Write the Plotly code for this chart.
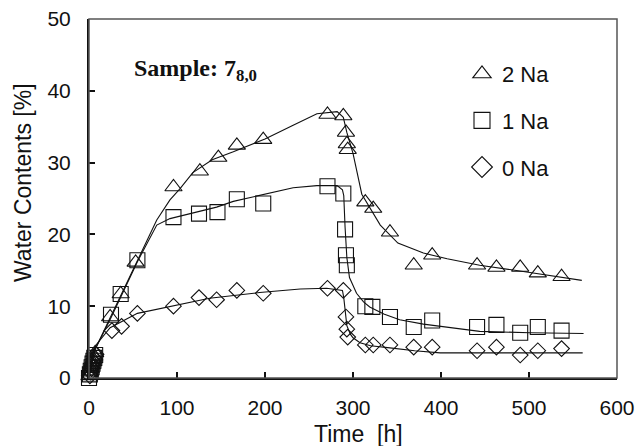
import plotly.graph_objects as go

t_2na = [0.5, 1, 2, 3, 4, 5, 6, 7, 24, 36, 53, 96, 126, 147, 168, 198, 271, 289, 292, 293, 294,
         314, 323, 342, 369, 390, 441, 463, 490, 510, 537]
v_2na = [0.3, 0.8, 1.3, 1.8, 2.2, 2.6, 3.0, 3.5, 8.5, 11.7, 16.1, 26.6, 28.8, 30.7, 32.4, 33.2, 36.7, 36.5, 34.2, 32.6, 31.8,
         24.5, 23.6, 20.3, 15.7, 17.1, 15.7, 15.4, 15.4, 14.6, 14.1]

t_1na = [0, 1, 2, 3, 4, 5, 6, 7, 25, 36, 55, 96, 125, 146, 168, 198, 271, 289, 291, 292, 293,
         314, 322, 342, 369, 390, 441, 463, 490, 510, 537]
v_1na = [0, 0.5, 1.0, 1.5, 2.0, 2.4, 2.8, 3.2, 8.8, 11.7, 16.4, 22.4, 22.9, 23.1, 24.9, 24.3, 26.7, 25.7, 20.7, 17.1, 15.7,
         10.0, 9.9, 8.5, 7.1, 8.0, 7.1, 7.4, 6.3, 7.1, 6.6]

t_0na = [0, 1, 2, 3, 4, 5, 6, 8, 26, 37, 55, 96, 125, 145, 168, 198, 271, 289, 292, 293, 294,
         314, 323, 342, 369, 390, 441, 463, 490, 510, 537]
v_0na = [-0.3, 0.3, 0.8, 1.3, 1.8, 2.2, 2.7, 3.3, 6.6, 7.2, 9.0, 10.0, 11.2, 10.9, 12.2, 11.8, 12.5, 12.2, 8.5, 6.8, 5.7,
         4.6, 4.6, 4.6, 4.3, 4.3, 3.8, 4.3, 3.2, 3.8, 4.1]

# fitted curves
fit_t_2na = [0, 3, 7, 25, 55, 77, 92, 103, 118, 140, 164, 200, 232, 259, 282, 289, 293, 300, 310, 324, 331, 351, 380, 407, 444, 501, 560]
fit_v_2na = [0, 2.0, 4.0, 8.6, 16.5, 22.0, 24.8, 26.3, 28.6, 30.4, 31.5, 33.3, 35.2, 36.8, 37.1, 36.3, 34.2, 31.3, 25.6, 22.8, 21.3, 18.8, 17.4, 16.6, 15.7, 14.7, 13.6]

fit_t_1na = [0, 3, 7, 25, 55, 77, 92, 120, 145, 164, 200, 232, 259, 282, 288, 289.5, 291, 293, 296, 300, 304, 312, 319, 335, 353, 380, 407, 444, 501, 562]
fit_v_1na = [0, 2.0, 4.0, 8.4, 16.2, 21.3, 22.2, 23.0, 23.8, 24.6, 25.6, 26.5, 26.8, 26.8, 26.2, 25.4, 21.0, 16.8, 14.0, 12.8, 11.8, 10.6, 9.9, 8.9, 8.1, 7.5, 7.1, 6.5, 6.3, 6.2]

fit_t_0na = [0, 3, 8, 24, 55, 96, 137, 194, 240, 270, 288, 289.5, 291, 293, 297, 300, 308, 320, 342, 370, 399, 450, 561]
fit_v_0na = [0, 3.0, 4.6, 7.0, 9.0, 10.1, 11.1, 11.9, 12.4, 12.5, 12.2, 11.2, 9.2, 7.3, 6.1, 5.6, 4.9, 4.5, 4.2, 3.8, 3.5, 3.5, 3.5]

series_names = ["2 Na", "1 Na", "0 Na"]
x_ticks = [0, 100, 200, 300, 400, 500, 600]
y_ticks = [0, 10, 20, 30, 40, 50]

INK = "#111111"
FRAME = "#555555"
fig = go.Figure()

# fitted lines
for ft, fv in [(fit_t_2na, fit_v_2na), (fit_t_1na, fit_v_1na), (fit_t_0na, fit_v_0na)]:
    fig.add_trace(go.Scatter(x=ft, y=fv, mode="lines", line=dict(color=INK, width=1.1),
                             showlegend=False, hoverinfo="skip", cliponaxis=False))

symbols = ["triangle-up-open", "square-open", "diamond-open"]
sizes = [15, 15, 12]
data = [(t_2na, v_2na), (t_1na, v_1na), (t_0na, v_0na)]
for (tt, vv), sym, sz in zip(data, symbols, sizes):
    fig.add_trace(go.Scatter(x=tt, y=vv, mode="markers",
                             marker=dict(symbol=sym, size=sz, color=INK, line=dict(color=INK, width=1.1)),
                             showlegend=False, cliponaxis=False))

# legend entries
for i, (name, sym) in enumerate(zip(series_names, symbols)):
    fig.add_trace(go.Scatter(x=[None], y=[None], mode="markers", name=name,
                             legendgroup=name,
                             marker=dict(symbol=sym, size=16, color=INK, line=dict(color=INK, width=1.1))))

fig.add_annotation(xref="paper", yref="paper", x=(132 - 89) / 528, y=(378 - 70) / 359,
                   xanchor="left", yanchor="middle", showarrow=False,
                   text="<b>Sample: 7<sub>8,0</sub></b>",
                   font=dict(family="Liberation Serif", size=24, color=INK))

# axis titles
fig.add_annotation(xref="paper", yref="paper", x=(358 - 89) / 528, y=(378 - 434) / 359,
                   xanchor="center", yanchor="middle", showarrow=False,
                   text="Time\u00a0 [h]", font=dict(size=23, color=INK))
fig.add_annotation(xref="paper", yref="paper", x=(23 - 89) / 528, y=(378 - 183) / 359,
                   xanchor="center", yanchor="middle", showarrow=False, textangle=-90,
                   text="Water Contents [%]", font=dict(size=23, color=INK))

# frame around the plot area (top/right in gray, as in the reference)
fig.add_shape(type="rect", xref="paper", yref="paper", x0=0, x1=1, y0=0, y1=1,
              line=dict(color=FRAME, width=1.5), fillcolor="rgba(0,0,0,0)", layer="above")

fig.update_layout(
    width=640, height=446,
    margin=dict(l=89, r=23, t=19, b=68),
    paper_bgcolor="white", plot_bgcolor="white",
    font=dict(family="Liberation Sans", color=INK),
    legend=dict(x=(462 - 89) / 528, y=(378 - 53) / 359, xanchor="left", yanchor="top",
                font=dict(size=22, family="Liberation Sans", color=INK),
                traceorder="grouped", tracegroupgap=15, bgcolor="rgba(0,0,0,0)"),
    xaxis=dict(range=[0, 600], tickvals=x_ticks, ticks="inside", ticklen=6, tickcolor=INK,
               tickwidth=1.5, showline=True, linecolor=INK, linewidth=2,
               showgrid=False, zeroline=False, layer="above traces",
               tickfont=dict(size=21), ticklabelstandoff=10, automargin=False),
    yaxis=dict(range=[0, 50], tickvals=y_ticks, ticks="inside", ticklen=6, tickcolor=INK,
               tickwidth=1.5, showline=True, linecolor=INK, linewidth=2,
               showgrid=False, zeroline=False, layer="above traces",
               tickfont=dict(size=21), ticklabelstandoff=12, automargin=False),
)

fig.write_html("out.html", config={"displayModeBar": False},
               post_script="document.body.style.margin='0px';document.body.style.overflow='hidden';")
